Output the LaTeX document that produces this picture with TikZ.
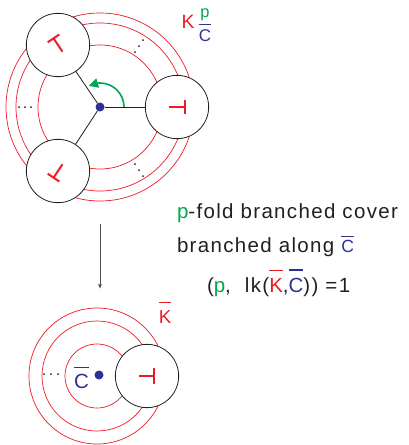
\documentclass[tikz,border=0pt]{standalone}
\usepackage{fontspec}
\setmainfont{Liberation Sans}[LetterSpace=6.5]
\usetikzlibrary{arrows.meta,bending}
\definecolor{kred}{RGB}{237,28,36}
\definecolor{kgreen}{RGB}{0,166,81}
\definecolor{kblue}{RGB}{46,49,146}
\definecolor{ink}{RGB}{35,31,32}
\newcommand{\ovl}[2][4pt]{\vbox{\hrule height 1.1pt\kern#1\hbox{#2}}}

\begin{document}
\begin{tikzpicture}[x=0.03cm, y=0.03cm,
    every node/.style={inner sep=0pt, outer sep=0pt},
    ring/.style={kred, line width=0.6pt},
    disk/.style={circle, draw=ink, line width=0.7pt, fill=white, minimum size=1.9cm},
    spoke/.style={ink, line width=0.7pt},
    stopper/.style={kred, line width=1.7pt},
    hubdot/.style={circle, fill=kblue, minimum size=2.7mm},
    turn/.style={kgreen, line width=1.4pt, -{Triangle[length=8pt,width=8pt,flex]}},
    cover/.style={ink!80, line width=0.8pt, -{Latex[length=4pt,width=3.5pt]}},
    txt/.style={font=\fontsize{17.5}{21}\selectfont, text=ink, anchor=base west}]
  \useasboundingbox (0,0) rectangle (408,-445);
  % p-fold cover
  \node[hubdot] (hub) at (100,-107) {};
  \foreach \r in {62,84,94}
    \draw[ring] (hub.center) circle (\r);
  \foreach \px/\py/\ang/\nm in {177/-107/0/dR, 58/-45/124/dT, 58/-171/236/dB} {
    \node[disk] (\nm) at (\px,\py) {};
    \draw[stopper, shift={(\px,\py)}, rotate=\ang] (-8,0) -- (8,0) (8,-7) -- (8,7);
    \draw[spoke] (hub) -- (\nm);
  }
  \draw[turn] ([shift={(0:24)}]hub.center) arc[start angle=0, end angle=118, radius=24];
  \foreach \px/\py in {19/-107,25/-107,31/-107,135/-52,139/-46,143/-40,135/-164,139/-170,143/-176}
    \fill[ink] (\px,\py) circle (1);
  \node[font=\fontsize{16.5}{19}\selectfont, text=kred, anchor=base] (klab) at (188,-28) {K};
  \node[font=\fontsize{14}{16}\selectfont, text=kgreen, anchor=base] (plab) at (205,-17) {p};
  \node[font=\fontsize{14.5}{16}\selectfont, text=kblue, anchor=base] (clab) at (205,-41) {\ovl[3.5pt]{C}};

  % covering map
  \coordinate (covtop) at (100,-224);
  \coordinate (covbot) at (100,-289);
  \draw[cover] (covtop) -- (covbot);
  \node[txt] (cov1) at (177,-218) {\textcolor{kgreen}{p}-fold branched cover};
  \node[txt] (cov2) at (177,-252) {branched along {\fontsize{15}{17}\selectfont\color{kblue}\ovl[2.5pt]{C}}};
  \node[txt] (lk) at (207,-292) {(\textcolor{kgreen}{p},\ \ lk(\textcolor{kred}{\ovl[6pt]{K}},\textcolor{kblue}{\ovl[6pt]{C}})) =1};

  % base knot
  \coordinate (base) at (97,-376);
  \foreach \r in {32,55,68}
    \draw[ring] (base) circle (\r);
  \node[disk] (dK) at (147,-376) {};
  \draw[stopper, shift={(147,-376)}] (-8,0) -- (7,0) (7,-8) -- (7,8);
  \node[hubdot] (hub2) at (99,-375) {};
  \foreach \px in {44,51,58}
    \fill[ink] (\px,-374) circle (1);
  \node[font=\fontsize{17.5}{21}\selectfont, text=kblue, anchor=base] (cbar) at (81.5,-388) {\ovl[4.5pt]{C}};
  \node[font=\fontsize{16}{18}\selectfont, text=kred, anchor=base] (kbar) at (165,-323) {\ovl[6pt]{K}};
\end{tikzpicture}
\end{document}
